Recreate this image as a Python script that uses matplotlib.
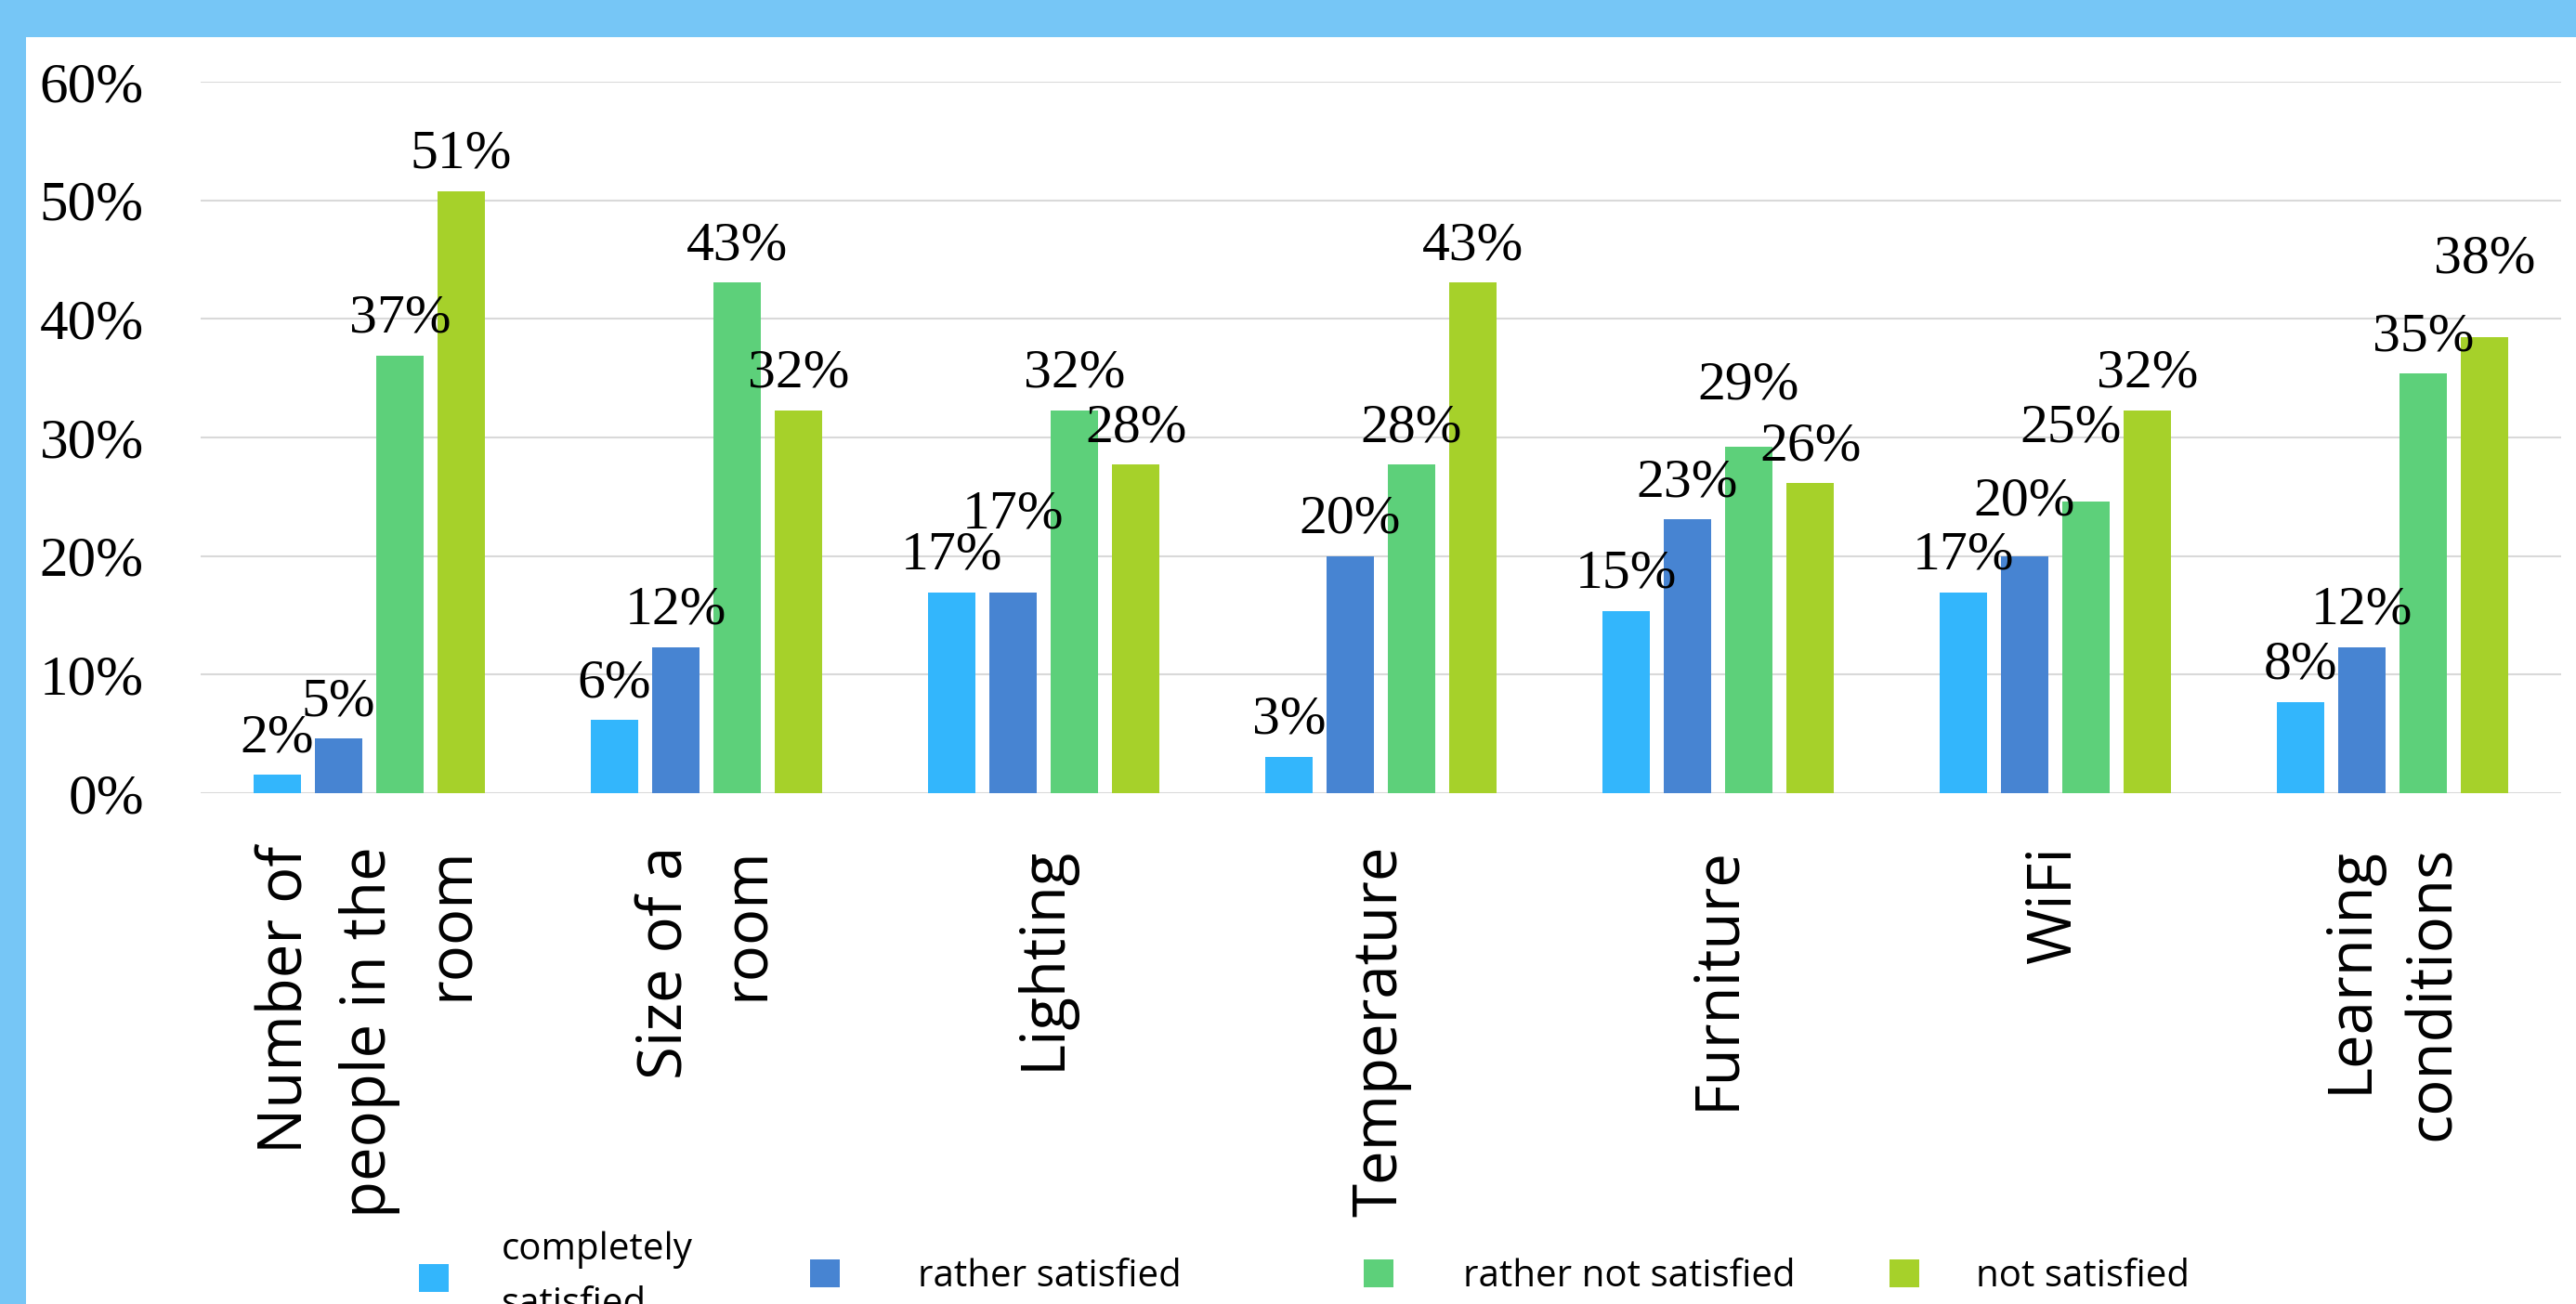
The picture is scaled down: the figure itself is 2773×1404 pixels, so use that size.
import matplotlib.pyplot as plt
from matplotlib.patches import Rectangle
import numpy as np

categories = ['Number of\npeople in the\nroom', 'Size of a\nroom', 'Lighting', 'Temperature',
              'Furniture', 'WiFi', 'Learning\nconditions']
series_names = ['completely\nsatisfied', 'rather satisfied', 'rather not satisfied', 'not satisfied']

# percentages
completely_satisfied = [1.54, 6.15, 16.92, 3.08, 15.38, 16.92, 7.69]
rather_satisfied = [4.62, 12.31, 16.92, 20.00, 23.08, 20.00, 12.31]
rather_not_satisfied = [36.92, 43.08, 32.31, 27.69, 29.23, 24.62, 35.38]
not_satisfied = [50.77, 32.31, 27.69, 43.08, 26.15, 32.31, 38.46]

yticks = [0, 10, 20, 30, 40, 50, 60]
colors = ['#33b6fc', '#4784d2', '#5dd07a', '#a6d12a']

# label nudges (points) where Excel moved overlapping labels
nudges = {(1, 2): (0, 32), (2, 4): (0, 19), (1, 5): (0, 14), (2, 5): (-11.5, 28), (3, 6): (0, 32)}

# legend entry placement (left edge of swatch in px, gap to text in font units)
legend_x = [451, 872, 1468, 2034]
legend_pad = [1.4, 2.08, 1.85, 1.52]

fig = plt.figure(figsize=(27.73, 14.04), dpi=100, facecolor='#76c6f6')
fig.patches.append(Rectangle((28 / 2773, 0), 1, 1 - 40 / 1404, transform=fig.transFigure,
                             facecolor='white', edgecolor='none', zorder=-1))

ax = fig.add_axes([216 / 2773, 1 - 854 / 1404, (2757 - 216) / 2773, (854 - 88) / 1404])
ax.set_facecolor('white')

x = np.arange(len(categories))
pitch = 0.182
width = 0.1406
all_series = [completely_satisfied, rather_satisfied, rather_not_satisfied, not_satisfied]

handles = []
for i, (vals, name, c) in enumerate(zip(all_series, series_names, colors)):
    pos = x + (i - 1.5) * pitch
    b = ax.bar(pos, vals, width=width, color=c, label=name, zorder=2)
    handles.append(b)
    for j, (px, v) in enumerate(zip(pos, vals)):
        dx, dy = nudges.get((i, j), (0, 0))
        ax.annotate(f'{v:.0f}%', (px, v), xytext=(dx, 18 + dy), textcoords='offset points',
                    ha='center', va='baseline', fontsize=43, family='Liberation Serif', zorder=3)

ax.set_xlim(-0.5, 6.5)
ax.set_ylim(0, 60)
ax.set_yticks(yticks)
ax.set_yticklabels([f'{t}%' for t in yticks], fontsize=44, family='Liberation Serif')
ax.set_xticks(x)
ax.set_xticklabels(categories, rotation=90, fontsize=47, family='Open Sans',
                   va='top', ha='center', multialignment='right', linespacing=1.46)
ax.tick_params(axis='both', length=0)
ax.tick_params(axis='y', pad=44)
ax.tick_params(axis='x', pad=41)
ax.yaxis.grid(True, color='#d9d9d9', linewidth=1.5)
ax.set_axisbelow(True)
for s in ax.spines.values():
    s.set_visible(False)

for h, name, lx, pad in zip(handles, series_names, legend_x, legend_pad):
    leg = fig.legend([h], [name], loc='center left', bbox_to_anchor=(lx / 2773, 1 - 1375 / 1404),
                     frameon=False, prop={'family': 'Open Sans', 'size': 29},
                     handlelength=0.8, handleheight=0.78, handletextpad=pad,
                     borderpad=0, borderaxespad=0)
    for t in leg.get_texts():
        t.set_linespacing(1.6)

fig.savefig('out.png', dpi=100, facecolor=fig.get_facecolor())
